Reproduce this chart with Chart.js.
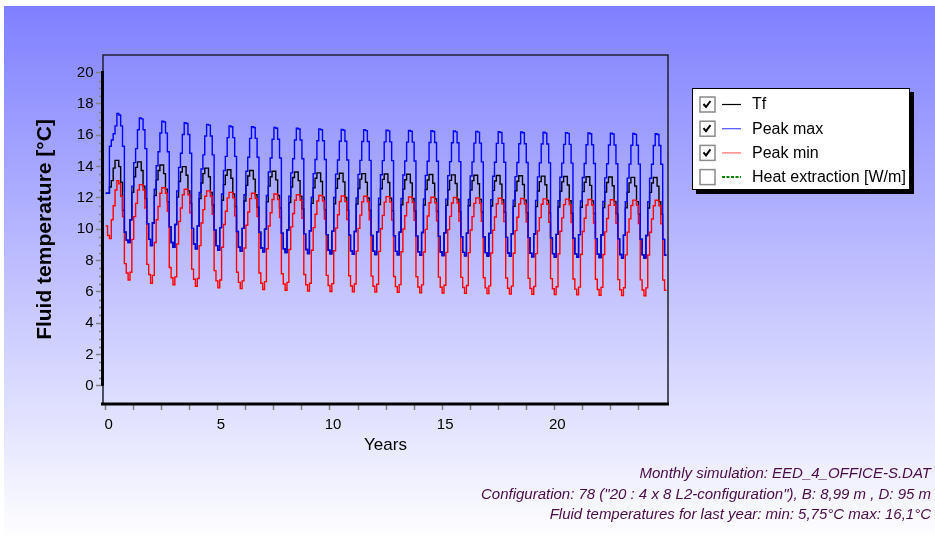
<!DOCTYPE html>
<html>
<head>
<meta charset="utf-8">
<script src="https://cdn.jsdelivr.net/npm/chart.js@4.4.1/dist/chart.umd.min.js"></script>
<style>
  html, body { margin: 0; padding: 0; background: #ffffff; }
  canvas { display: block; }
</style>
</head>
<body>
<canvas id="eed_chart" width="935" height="540"></canvas>
<script>
// monthly values, one row per simulated year (Jan..Dec)
const tfValues = [
  12.3, 12.3, 12.7, 13.1, 13.9, 14.4, 14.4, 14.0, 13.0, 11.2, 9.8, 9.3,
  9.15, 10.6, 12.35, 13.35, 13.95, 14.3, 14.3, 13.75, 12.75, 11.95, 10.35, 9.35,
  8.95, 10.4, 12.15, 13.15, 13.75, 14.1, 14.1, 13.55, 12.55, 11.75, 10.15, 9.15,
  8.85, 10.3, 12.05, 13.05, 13.65, 14.0, 14.0, 13.45, 12.45, 11.65, 10.05, 9.05,
  8.75, 10.2, 11.95, 12.95, 13.55, 13.9, 13.9, 13.35, 12.35, 11.55, 9.95, 8.95,
  8.65, 10.1, 11.85, 12.85, 13.45, 13.8, 13.8, 13.25, 12.25, 11.45, 9.85, 8.85,
  8.6, 10.05, 11.8, 12.8, 13.4, 13.75, 13.75, 13.2, 12.2, 11.4, 9.8, 8.8,
  8.55, 10.0, 11.75, 12.75, 13.35, 13.7, 13.7, 13.15, 12.15, 11.35, 9.75, 8.75,
  8.5, 9.95, 11.7, 12.7, 13.3, 13.65, 13.65, 13.1, 12.1, 11.3, 9.7, 8.7,
  8.45, 9.9, 11.65, 12.65, 13.25, 13.6, 13.6, 13.05, 12.05, 11.25, 9.65, 8.65,
  8.42, 9.87, 11.62, 12.62, 13.22, 13.57, 13.57, 13.02, 12.02, 11.22, 9.62, 8.62,
  8.4, 9.85, 11.6, 12.6, 13.2, 13.55, 13.55, 13.0, 12.0, 11.2, 9.6, 8.6,
  8.38, 9.83, 11.58, 12.58, 13.18, 13.53, 13.53, 12.98, 11.98, 11.18, 9.58, 8.58,
  8.36, 9.81, 11.56, 12.56, 13.16, 13.51, 13.51, 12.96, 11.96, 11.16, 9.56, 8.56,
  8.34, 9.79, 11.54, 12.54, 13.14, 13.49, 13.49, 12.94, 11.94, 11.14, 9.54, 8.54,
  8.32, 9.77, 11.52, 12.52, 13.12, 13.47, 13.47, 12.92, 11.92, 11.12, 9.52, 8.52,
  8.3, 9.75, 11.5, 12.5, 13.1, 13.45, 13.45, 12.9, 11.9, 11.1, 9.5, 8.5,
  8.28, 9.73, 11.48, 12.48, 13.08, 13.43, 13.43, 12.88, 11.88, 11.08, 9.48, 8.48,
  8.26, 9.71, 11.46, 12.46, 13.06, 13.41, 13.41, 12.86, 11.86, 11.06, 9.46, 8.46,
  8.24, 9.69, 11.44, 12.44, 13.04, 13.39, 13.39, 12.84, 11.84, 11.04, 9.44, 8.44,
  8.22, 9.67, 11.42, 12.42, 13.02, 13.37, 13.37, 12.82, 11.82, 11.02, 9.42, 8.42,
  8.2, 9.65, 11.4, 12.4, 13.0, 13.35, 13.35, 12.8, 11.8, 11.0, 9.4, 8.4,
  8.18, 9.63, 11.38, 12.38, 12.98, 13.33, 13.33, 12.78, 11.78, 10.98, 9.38, 8.38,
  8.16, 9.61, 11.36, 12.36, 12.96, 13.31, 13.31, 12.76, 11.76, 10.96, 9.36, 8.36,
  8.15, 9.6, 11.35, 12.35, 12.95, 13.3, 13.3, 12.75, 11.75, 10.95, 9.35, 8.35
];

const peakMaxValues = [
  12.3, 12.3, 15.3, 15.7, 16.1, 16.6, 17.4, 17.3, 16.6, 15.3, 9.8, 9.3,
  9.15, 10.6, 12.75, 14.25, 15.15, 16.35, 17.1, 17.05, 16.35, 15.15, 10.35, 9.35,
  8.95, 10.4, 12.55, 14.05, 14.95, 16.15, 16.9, 16.85, 16.15, 14.95, 10.15, 9.15,
  8.85, 10.3, 12.45, 13.95, 14.85, 16.05, 16.8, 16.75, 16.05, 14.85, 10.05, 9.05,
  8.75, 10.2, 12.35, 13.85, 14.75, 15.95, 16.7, 16.65, 15.95, 14.75, 9.95, 8.95,
  8.65, 10.1, 12.25, 13.75, 14.65, 15.85, 16.6, 16.55, 15.85, 14.65, 9.85, 8.85,
  8.6, 10.05, 12.2, 13.7, 14.6, 15.8, 16.55, 16.5, 15.8, 14.6, 9.8, 8.8,
  8.55, 10.0, 12.15, 13.65, 14.55, 15.75, 16.5, 16.45, 15.75, 14.55, 9.75, 8.75,
  8.5, 9.95, 12.1, 13.6, 14.5, 15.7, 16.45, 16.4, 15.7, 14.5, 9.7, 8.7,
  8.45, 9.9, 12.05, 13.55, 14.45, 15.65, 16.4, 16.35, 15.65, 14.45, 9.65, 8.65,
  8.42, 9.87, 12.02, 13.52, 14.42, 15.62, 16.37, 16.32, 15.62, 14.42, 9.62, 8.62,
  8.4, 9.85, 12.0, 13.5, 14.4, 15.6, 16.35, 16.3, 15.6, 14.4, 9.6, 8.6,
  8.38, 9.83, 11.98, 13.48, 14.38, 15.58, 16.33, 16.28, 15.58, 14.38, 9.58, 8.58,
  8.36, 9.81, 11.96, 13.46, 14.36, 15.56, 16.31, 16.26, 15.56, 14.36, 9.56, 8.56,
  8.34, 9.79, 11.94, 13.44, 14.34, 15.54, 16.29, 16.24, 15.54, 14.34, 9.54, 8.54,
  8.32, 9.77, 11.92, 13.42, 14.32, 15.52, 16.27, 16.22, 15.52, 14.32, 9.52, 8.52,
  8.3, 9.75, 11.9, 13.4, 14.3, 15.5, 16.25, 16.2, 15.5, 14.3, 9.5, 8.5,
  8.28, 9.73, 11.88, 13.38, 14.28, 15.48, 16.23, 16.18, 15.48, 14.28, 9.48, 8.48,
  8.26, 9.71, 11.86, 13.36, 14.26, 15.46, 16.21, 16.16, 15.46, 14.26, 9.46, 8.46,
  8.24, 9.69, 11.84, 13.34, 14.24, 15.44, 16.19, 16.14, 15.44, 14.24, 9.44, 8.44,
  8.22, 9.67, 11.82, 13.32, 14.22, 15.42, 16.17, 16.12, 15.42, 14.22, 9.42, 8.42,
  8.2, 9.65, 11.8, 13.3, 14.2, 15.4, 16.15, 16.1, 15.4, 14.2, 9.4, 8.4,
  8.18, 9.63, 11.78, 13.28, 14.18, 15.38, 16.13, 16.08, 15.38, 14.18, 9.38, 8.38,
  8.16, 9.61, 11.76, 13.26, 14.16, 15.36, 16.11, 16.06, 15.36, 14.16, 9.36, 8.36,
  8.15, 9.6, 11.75, 13.25, 14.15, 15.35, 16.1, 16.05, 15.35, 14.15, 9.35, 8.35
];

const peakMinValues = [
  10.2, 9.6, 9.4, 10.6, 11.5, 12.5, 13.1, 12.9, 12.1, 10.8, 7.8, 7.2,
  6.75, 7.25, 9.35, 10.8, 11.65, 12.5, 12.85, 12.85, 12.5, 11.35, 7.75, 7.1,
  6.55, 7.05, 9.15, 10.6, 11.45, 12.3, 12.65, 12.65, 12.3, 11.15, 7.55, 6.9,
  6.45, 6.95, 9.05, 10.5, 11.35, 12.2, 12.55, 12.55, 12.2, 11.05, 7.45, 6.8,
  6.35, 6.85, 8.95, 10.4, 11.25, 12.1, 12.45, 12.45, 12.1, 10.95, 7.35, 6.7,
  6.25, 6.75, 8.85, 10.3, 11.15, 12.0, 12.35, 12.35, 12.0, 10.85, 7.25, 6.6,
  6.2, 6.7, 8.8, 10.25, 11.1, 11.95, 12.3, 12.3, 11.95, 10.8, 7.2, 6.55,
  6.15, 6.65, 8.75, 10.2, 11.05, 11.9, 12.25, 12.25, 11.9, 10.75, 7.15, 6.5,
  6.1, 6.6, 8.7, 10.15, 11.0, 11.85, 12.2, 12.2, 11.85, 10.7, 7.1, 6.45,
  6.05, 6.55, 8.65, 10.1, 10.95, 11.8, 12.15, 12.15, 11.8, 10.65, 7.05, 6.4,
  6.02, 6.52, 8.62, 10.07, 10.92, 11.77, 12.12, 12.12, 11.77, 10.62, 7.02, 6.37,
  6.0, 6.5, 8.6, 10.05, 10.9, 11.75, 12.1, 12.1, 11.75, 10.6, 7.0, 6.35,
  5.98, 6.48, 8.58, 10.03, 10.88, 11.73, 12.08, 12.08, 11.73, 10.58, 6.98, 6.33,
  5.96, 6.46, 8.56, 10.01, 10.86, 11.71, 12.06, 12.06, 11.71, 10.56, 6.96, 6.31,
  5.94, 6.44, 8.54, 9.99, 10.84, 11.69, 12.04, 12.04, 11.69, 10.54, 6.94, 6.29,
  5.92, 6.42, 8.52, 9.97, 10.82, 11.67, 12.02, 12.02, 11.67, 10.52, 6.92, 6.27,
  5.9, 6.4, 8.5, 9.95, 10.8, 11.65, 12.0, 12.0, 11.65, 10.5, 6.9, 6.25,
  5.88, 6.38, 8.48, 9.93, 10.78, 11.63, 11.98, 11.98, 11.63, 10.48, 6.88, 6.23,
  5.86, 6.36, 8.46, 9.91, 10.76, 11.61, 11.96, 11.96, 11.61, 10.46, 6.86, 6.21,
  5.84, 6.34, 8.44, 9.89, 10.74, 11.59, 11.94, 11.94, 11.59, 10.44, 6.84, 6.19,
  5.82, 6.32, 8.42, 9.87, 10.72, 11.57, 11.92, 11.92, 11.57, 10.42, 6.82, 6.17,
  5.8, 6.3, 8.4, 9.85, 10.7, 11.55, 11.9, 11.9, 11.55, 10.4, 6.8, 6.15,
  5.78, 6.28, 8.38, 9.83, 10.68, 11.53, 11.88, 11.88, 11.53, 10.38, 6.78, 6.13,
  5.76, 6.26, 8.36, 9.81, 10.66, 11.51, 11.86, 11.86, 11.51, 10.36, 6.76, 6.11,
  5.75, 6.25, 8.35, 9.8, 10.65, 11.5, 11.85, 11.85, 11.5, 10.35, 6.75, 6.1
];

const seriesNames = ['Tf', 'Peak max', 'Peak min', 'Heat extraction [W/m]'];
const seriesShown = [true, true, true, false];
const xTickLabels = [0, 5, 10, 15, 20];
const yTickLabels = [0, 2, 4, 6, 8, 10, 12, 14, 16, 18, 20];
const footerLines = [
  'Monthly simulation: EED_4_OFFICE-S.DAT',
  'Configuration: 78 ("20 : 4 x 8 L2-configuration"), B: 8,99 m , D: 95 m',
  'Fluid temperatures for last year: min: 5,75\u00b0C max: 16,1\u00b0C'
];

const FONT = 'Arial, "Liberation Sans", sans-serif';
Chart.defaults.font.family = FONT;
Chart.defaults.color = '#000000';

// month i is held from i/12 until the next month
function toPoints(values) {
  const pts = values.map((v, i) => ({ x: i / 12, y: v }));
  pts.push({ x: values.length / 12, y: values[values.length - 1] });
  return pts;
}

const xMinorTicks = [];
for (let v = 0; v <= 23.75; v += 1.25) xMinorTicks.push(v);

const backgroundPlugin = {
  id: 'background',
  beforeDraw(c) {
    const g = c.ctx;
    g.save();
    g.fillStyle = '#ffffff';
    g.fillRect(0, 0, c.width, c.height);
    const grad = g.createLinearGradient(0, 6, 0, c.height);
    grad.addColorStop(0, '#8080ff');
    grad.addColorStop(1, '#ffffff');
    g.fillStyle = grad;
    g.fillRect(4, 6, c.width - 4, c.height - 6);
    g.restore();
  }
};

const framePlugin = {
  id: 'frame',
  afterDatasetsDraw(c) {
    const g = c.ctx;
    const a = c.chartArea;
    const ys = c.scales.y;
    g.save();
    g.strokeStyle = '#202030';
    g.lineWidth = 1.5;
    g.strokeRect(a.left, a.top, a.right - a.left, a.bottom - a.top);

    // minor ticks on the temperature axis
    g.strokeStyle = '#808080';
    g.lineWidth = 1.5;
    g.beginPath();
    for (let v = 0.5; v < 20; v += 0.5) {
      if (v % 2 === 0) continue;
      const py = Math.round(ys.getPixelForValue(v)) + 0.5;
      g.moveTo(a.left - 4, py);
      g.lineTo(a.left, py);
    }
    g.stroke();

    g.strokeStyle = '#000000';
    g.lineWidth = 3;
    g.beginPath();
    g.moveTo(a.left - 0.5, ys.getPixelForValue(0));
    g.lineTo(a.left - 0.5, ys.getPixelForValue(20.1));
    g.moveTo(a.left - 2, a.bottom);
    g.lineTo(a.right + 1, a.bottom);
    g.stroke();
    g.restore();
  }
};

const legendStyles = [
  { color: '#000000', dash: null },
  { color: '#5050ff', dash: null },
  { color: '#ff6a6a', dash: null },
  { color: '#008000', dash: [3, 1.5] }
];

const sideLegendPlugin = {
  id: 'sideLegend',
  afterDraw(c) {
    const g = c.ctx;
    const bx = 692, by = 88, bw = 218, bh = 102;
    g.save();
    g.fillStyle = '#000000';
    g.fillRect(bx + 4, by + 4, bw, bh);
    g.fillStyle = '#ffffff';
    g.fillRect(bx, by, bw, bh);
    g.strokeStyle = '#000000';
    g.lineWidth = 1;
    g.strokeRect(bx + 0.5, by + 0.5, bw - 1, bh - 1);

    seriesNames.forEach((name, i) => {
      const cy = 104.5 + i * 24.2;
      g.fillStyle = '#ffffff';
      g.fillRect(700, cy - 7.5, 15, 15);
      g.strokeStyle = '#8a8a8a';
      g.lineWidth = 1.5;
      g.strokeRect(700, cy - 7.5, 15, 15);
      if (seriesShown[i]) {
        g.strokeStyle = '#000000';
        g.lineWidth = 2;
        g.beginPath();
        g.moveTo(703.5, cy - 0.5);
        g.lineTo(706, cy + 2.5);
        g.lineTo(710.5, cy - 3.5);
        g.stroke();
      }
      const st = legendStyles[i];
      g.strokeStyle = st.color;
      g.lineWidth = st.dash ? 2 : 1.2;
      g.setLineDash(st.dash || []);
      g.beginPath();
      g.moveTo(722, cy);
      g.lineTo(741, cy);
      g.stroke();
      g.setLineDash([]);
      g.fillStyle = '#000000';
      g.font = '16px ' + FONT;
      g.textBaseline = 'middle';
      g.textAlign = 'left';
      g.fillText(name, 752, cy + 0.5);
    });

    g.fillStyle = '#4a0c4a';
    g.font = 'italic 15px ' + FONT;
    g.textAlign = 'right';
    footerLines.forEach((line, i) => {
      g.fillText(line, 931, 474 + i * 20.5);
    });
    g.restore();
  }
};

const ctx = document.getElementById('eed_chart').getContext('2d');
const chart = new Chart(ctx, {
  type: 'line',
  data: {
    datasets: [
      { label: seriesNames[0], data: toPoints(tfValues), borderColor: '#000000', order: 2 },
      { label: seriesNames[1], data: toPoints(peakMaxValues), borderColor: '#0000ff', order: 0 },
      { label: seriesNames[2], data: toPoints(peakMinValues), borderColor: '#ff0000', order: 1 }
    ]
  },
  options: {
    responsive: false,
    animation: false,
    events: [],
    datasets: {
      line: { stepped: true, pointRadius: 0, borderWidth: 1.4, fill: false, tension: 0 }
    },
    layout: { padding: { top: 55, right: 267, bottom: 76, left: 0 } },
    plugins: { legend: { display: false }, tooltip: { enabled: false } },
    scales: {
      x: {
        type: 'linear',
        min: -0.12,
        max: 25.07,
        afterBuildTicks: s => { s.ticks = xMinorTicks.map(v => ({ value: v })); },
        afterFit: s => { s.height = 60; },
        ticks: {
          autoSkip: false,
          maxRotation: 0,
          padding: 6,
          labelOffset: 3,
          font: { size: 15 },
          callback: v => (xTickLabels.includes(v) ? String(v) : '')
        },
        grid: { drawOnChartArea: false, drawTicks: true, tickLength: 6, tickColor: '#808080', tickWidth: 1.5 },
        border: { display: false },
        title: { display: true, text: 'Years', font: { size: 17 }, padding: { top: 0, bottom: 8 } }
      },
      y: {
        type: 'linear',
        min: -1.17,
        max: 21.13,
        afterBuildTicks: s => { s.ticks = yTickLabels.map(v => ({ value: v })); },
        afterFit: s => { s.width = 103; },
        ticks: { autoSkip: false, padding: 2.5, font: { size: 15 } },
        grid: { drawOnChartArea: false, drawTicks: true, tickLength: 7, tickColor: '#808080', tickWidth: 1.5 },
        border: { display: false },
        title: {
          display: true,
          text: 'Fluid temperature [\u00b0C]',
          font: { size: 21, weight: 'bold' },
          padding: { top: 33, bottom: 0 }
        }
      }
    }
  },
  plugins: [backgroundPlugin, framePlugin, sideLegendPlugin]
});
</script>
</body>
</html>
